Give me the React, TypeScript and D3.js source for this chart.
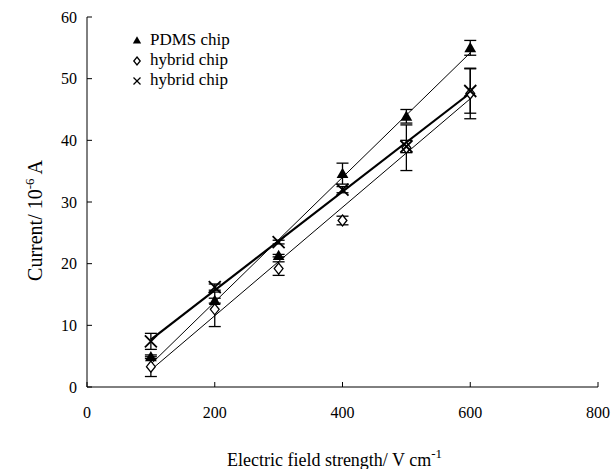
import React from "react";
import * as d3 from "d3";

const fields = [100, 200, 300, 400, 500, 600];
const pdms = [4.9, 14.0, 21.3, 34.6, 43.9, 55.0];
const pdmsErr = [0.3, 0.4, 0.2, 1.7, 1.1, 1.2];
const hybridA = [3.3, 12.6, 19.2, 27.0, 38.8, 47.6];
const hybridAErr = [1.6, 2.8, 1.1, 0.7, 3.7, 4.1];
const hybridB = [7.4, 16.2, 23.5, 32.0, 39.0, 48.0];
const hybridBErr = [1.3, 0.5, 0.3, 0.5, 1.0, 3.6];
const xTicks = [0, 200, 400, 600, 800];
const yTicks = [0, 10, 20, 30, 40, 50, 60];
const legendLabels = ["PDMS chip", "hybrid chip", "hybrid chip"];

function fit(xs: number[], ys: number[]) {
  const mx = d3.mean(xs)!;
  const my = d3.mean(ys)!;
  let sxy = 0, sxx = 0;
  xs.forEach((x, i) => { sxy += (x - mx) * (ys[i] - my); sxx += (x - mx) * (x - mx); });
  const b = sxy / sxx;
  return (x: number) => my + b * (x - mx);
}

const FONT = "'Liberation Serif', 'Times New Roman', serif";

export default function App() {
  const W = 612, H = 469;
  const x = d3.scaleLinear().domain([0, 800]).range([87, 598]);
  const y = d3.scaleLinear().domain([0, 60]).range([387, 17]);

  const tri = d3.symbol().type(d3.symbolTriangle).size(60)()!;

  const errBars = (vals: number[], errs: number[], key: string) =>
    fields.map((f, i) => {
      const cx = x(f);
      const t = y(vals[i] + errs[i]);
      const b = y(vals[i] - errs[i]);
      return (
        <g key={key + i} stroke="#000" strokeWidth={1.3}>
          <line x1={cx} x2={cx} y1={t} y2={b} />
          <line x1={cx - 6} x2={cx + 6} y1={t} y2={t} />
          <line x1={cx - 6} x2={cx + 6} y1={b} y2={b} />
        </g>
      );
    });

  const fitLine = (vals: number[], w: number, key: string) => {
    const f = fit(fields, vals);
    const x0 = fields[0], x1 = fields[fields.length - 1];
    return <line key={key} x1={x(x0)} y1={y(f(x0))} x2={x(x1)} y2={y(f(x1))} stroke="#000" strokeWidth={w} />;
  };

  const diamond = (cx: number, cy: number, r: number, k: string) => (
    <path key={k} d={`M${cx},${cy - r}L${cx + r * 0.8},${cy}L${cx},${cy + r}L${cx - r * 0.8},${cy}Z`} fill="#fff" stroke="#000" strokeWidth={1.3} />
  );
  const cross = (cx: number, cy: number, r: number, k: string, sw = 1.8) => (
    <g key={k} stroke="#000" strokeWidth={sw}>
      <line x1={cx - r} y1={cy - r} x2={cx + r} y2={cy + r} />
      <line x1={cx - r} y1={cy + r} x2={cx + r} y2={cy - r} />
    </g>
  );

  return (
    <svg width={W} height={H} style={{ position: "absolute", left: 0, top: 0, background: "#fff" }} fontFamily={FONT}>
      <rect width={W} height={H} fill="#fff" />
      {/* axes */}
      <line x1={x(0)} x2={x(0)} y1={y(0)} y2={y(60)} stroke="#000" strokeWidth={1} />
      <line x1={x(0)} x2={x(800)} y1={y(0)} y2={y(0)} stroke="#000" strokeWidth={1} />
      {yTicks.map((t) => (
        <g key={"yt" + t}>
          <line x1={x(0)} x2={x(0) + 5} y1={y(t)} y2={y(t)} stroke="#000" />
          <text x={77} y={y(t) + 5.5} textAnchor="end" fontSize={16}>{t}</text>
        </g>
      ))}
      {xTicks.map((t) => (
        <g key={"xt" + t}>
          <line x1={x(t)} x2={x(t)} y1={y(0)} y2={y(0) - 5} stroke="#000" />
          <text x={x(t)} y={418} textAnchor="middle" fontSize={16}>{t}</text>
        </g>
      ))}
      <text transform={`translate(42,${y(27)}) rotate(-90)`} textAnchor="middle" fontSize={20}>
        Current/ 10<tspan dy={-8} fontSize={13}>-6</tspan><tspan dy={8}> A</tspan>
      </text>
      <text x={x(400) - 8} y={466} textAnchor="middle" fontSize={18}>
        Electric field strength/ V cm<tspan dy={-8} fontSize={13}>-1</tspan>
      </text>

      {/* fit lines */}
      {fitLine(pdms, 1, "fp")}
      {fitLine(hybridA, 1, "fa")}
      {fitLine(hybridB, 2.2, "fb")}

      {/* error bars */}
      {errBars(hybridA, hybridAErr, "ea")}
      {errBars(pdms, pdmsErr, "ep")}
      {errBars(hybridB, hybridBErr, "eb")}

      {/* markers */}
      {fields.map((f, i) => diamond(x(f), y(hybridA[i]), 5.5, "da" + i))}
      {fields.map((f, i) => (
        <path key={"tp" + i} d={tri} transform={`translate(${x(f)},${y(pdms[i]) + 1})`} fill="#000" />
      ))}
      {fields.map((f, i) => cross(x(f), y(hybridB[i]), 6, "cb" + i))}

      {/* legend */}
      <path d={d3.symbol().type(d3.symbolTriangle).size(30)()!} transform="translate(137,41)" fill="#000" />
      {diamond(137, 61, 4, "ld")}
      {cross(137, 81, 3.5, "lc", 1.3)}
      {legendLabels.map((l, i) => (
        <text key={"lg" + i} x={150} y={45 + i * 20} fontSize={17}>{l}</text>
      ))}
    </svg>
  );
}
